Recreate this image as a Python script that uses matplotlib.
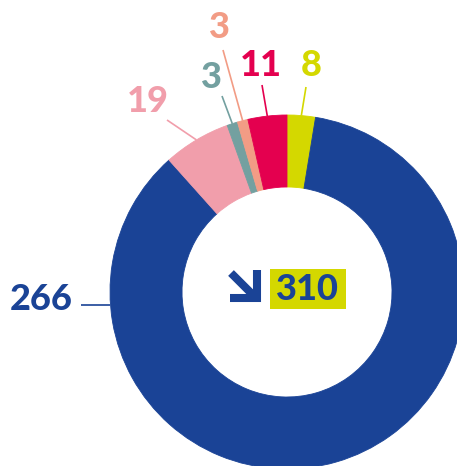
import matplotlib
matplotlib.use("Agg")
import matplotlib.pyplot as plt
from matplotlib.patches import Rectangle
import numpy as np

# data, clockwise from 12 o'clock
labels = ["8", "266", "19", "3", "3", "11"]
values = [8, 266, 19, 3, 3, 11]
colors = ["#d4d800", "#1a4396", "#f19eab", "#73a0a0", "#f29c85", "#e4004f"]
total_label = "310"

# layout in pixels of the 457x466 picture
W, H = 457, 466
CX, CY, R_OUT, R_IN = 287, 292, 177, 105
# label centre and leader end, one per slice
label_pos = [(311, 66), (41, 300), (148, 102), (211, 78), (219, 27), (261, 65)]
leader_end = [(306, 87), (81, 305), (167, 120), (222, 96), (223, 50), (262, 85)]
leader_start_266 = (110, 305)


def P(x, y):
    return ((x - CX) / R_OUT, (CY - y) / R_OUT)


fig = plt.figure(figsize=(W / 100, H / 100), dpi=100)
ax = fig.add_axes([0, 0, 1, 1])

wedges, _ = ax.pie(values, colors=colors, startangle=90, counterclock=False,
                   radius=1, wedgeprops=dict(width=(R_OUT - R_IN) / R_OUT,
                                             linewidth=0.6))
for w, c in zip(wedges, colors):
    w.set_edgecolor(c)

ax.set_xlim(P(0, 0)[0], P(W, 0)[0])
ax.set_ylim(P(0, H)[1], P(0, 0)[1])
ax.set_aspect("equal", adjustable="datalim")
ax.axis("off")

font = dict(family=["Lato", "DejaVu Sans"], fontweight="black", fontsize=26)

for i, w in enumerate(wedges):
    if labels[i] == "266":
        x0, y0 = P(*leader_start_266)
    else:
        a = np.deg2rad((w.theta1 + w.theta2) / 2)
        x0, y0 = np.cos(a), np.sin(a)
    x1, y1 = P(*leader_end[i])
    ax.plot([x0, x1], [y0, y1], color=colors[i], lw=1.2, solid_capstyle="butt")
    lx, ly = P(*label_pos[i])
    ax.text(lx, ly, labels[i], color=colors[i], ha="center", va="center", **font)

# centre: arrow + highlighted total
blue = colors[1]
ax.plot(*zip(P(231, 273), P(255, 297)), color=blue, lw=5.8, solid_capstyle="butt")
ax.plot(*zip(P(230, 297.5), P(257, 297.5), P(257, 270)), color=blue, lw=5.8,
        solid_joinstyle="miter", solid_capstyle="butt")
bx0, by0 = P(270, 309)
bx1, by1 = P(346, 269)
ax.add_patch(Rectangle((bx0, by0), bx1 - bx0, by1 - by0, color=colors[0], lw=0))
tx, ty = P(307, 290)
ax.text(tx, ty, total_label, color=blue, ha="center", va="center", **font)

fig.savefig("out.png", dpi=100)
